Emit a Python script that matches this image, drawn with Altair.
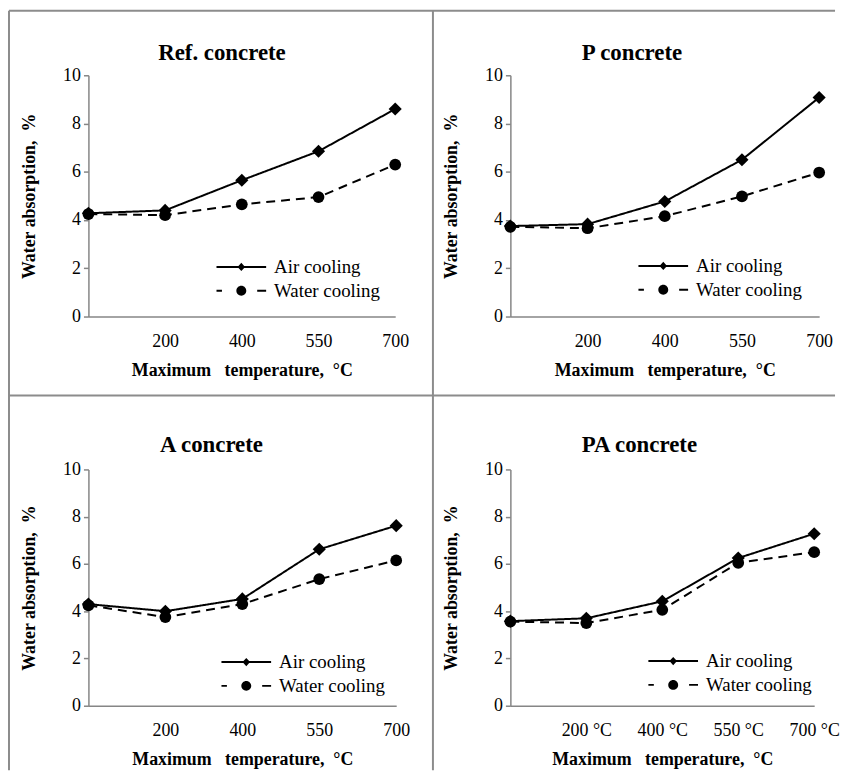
import altair as alt
import pandas as pd

# ---- data ----
temps = ["20", "200", "400", "550", "700"]
labels_plain = ["", "200", "400", "550", "700"]
labels_pa = ["", "200 °C", "400 °C", "550 °C", "700 °C"]
series = ["Air cooling", "Water cooling"]

titles = ["Ref. concrete", "P concrete", "A concrete", "PA concrete"]

ref_air = [4.28, 4.40, 5.65, 6.85, 8.60]
ref_water = [4.25, 4.20, 4.65, 4.95, 6.30]
p_air = [3.75, 3.83, 4.77, 6.50, 9.08]
p_water = [3.72, 3.66, 4.16, 4.98, 5.97]
a_air = [4.30, 4.00, 4.52, 6.62, 7.62]
a_water = [4.25, 3.75, 4.30, 5.36, 6.15]
pa_air = [3.58, 3.70, 4.42, 6.25, 7.28]
pa_water = [3.56, 3.50, 4.06, 6.05, 6.50]

y_ticks = [0, 2, 4, 6, 8, 10]

FONT = "Liberation Serif"
NB = "\u00a0"
Y_TITLE = "Water absorption," + NB * 2 + "%"
X_TITLE = "Maximum" + NB * 3 + "temperature," + NB * 2 + "°C"

# legend glyphs (line + marker) drawn as filled shapes, unit = 10 px
AIR_PATH = "M-1,-0.1L4,-0.1L4,0.1L-1,0.1Z M1.5,-0.42L1.88,0L1.5,0.42L1.12,0Z"
WATER_PATH = (
    "M-1,-0.1L-0.45,-0.1L-0.45,0.1L-1,0.1Z "
    "M3.1,-0.1L4,-0.1L4,0.1L3.1,0.1Z "
    "M2,0A0.5,0.5 0 1,1 1,0A0.5,0.5 0 1,1 2,0Z"
)


def make_df(air, water):
    rows = []
    for s, vals in zip(series, [air, water]):
        for t, v in zip(temps, vals):
            rows.append({"temp": t, "series": s, "value": v})
    return pd.DataFrame(rows)


def label_expr(labels):
    arr_l = "[" + ",".join("'" + l + "'" for l in labels) + "]"
    arr_t = "[" + ",".join("'" + t + "'" for t in temps) + "]"
    return arr_l + "[indexof(" + arr_t + ", datum.value)]"


def panel(title, air, water, labels, w, h, t_off, t_dx, lx, ly, borders=False):
    df = make_df(air, water)
    base = alt.Chart(df)
    x = alt.X(
        "temp:O",
        sort=temps,
        scale=alt.Scale(type="point", padding=0),
        axis=alt.Axis(
            labelExpr=label_expr(labels),
            labelAngle=0,
            ticks=False,
            labelPadding=16,
            title=X_TITLE,
            titlePadding=11,
        ),
    )
    y = alt.Y(
        "value:Q",
        scale=alt.Scale(domain=[0, 10], nice=False),
        axis=alt.Axis(
            values=y_ticks,
            tickSize=5,
            labelPadding=3,
            title=Y_TITLE,
            titlePadding=24,
        ),
    )
    lines = base.mark_line(color="black", strokeWidth=2).encode(
        x=x,
        y=y,
        strokeDash=alt.StrokeDash(
            "series:N",
            scale=alt.Scale(domain=series, range=[[1, 0], [9, 6]]),
            legend=None,
        ),
    )
    pts = base.mark_point(filled=True, color="black", opacity=1).encode(
        x=x,
        y=y,
        shape=alt.Shape(
            "series:N",
            scale=alt.Scale(domain=series, range=["diamond", "circle"]),
            legend=None,
        ),
        size=alt.Size(
            "series:N",
            scale=alt.Scale(domain=series, range=[175, 140]),
            legend=None,
        ),
    )
    leg = (
        base.mark_point(filled=True, color="black", opacity=1)
        .encode(
            x=x,
            y=y,
            shape=alt.Shape(
                "series:N",
                scale=alt.Scale(domain=series, range=[AIR_PATH, WATER_PATH]),
                legend=alt.Legend(
                    title=None,
                    orient="none",
                    legendX=lx,
                    legendY=ly,
                    symbolSize=400,
                    symbolStrokeWidth=0,
                    symbolFillColor="black",
                    symbolOpacity=1,
                    labelFont=FONT,
                    labelFontSize=19,
                    labelColor="black",
                    labelOffset=38,
                    rowPadding=4,
                    padding=0,
                ),
            ),
        )
        .transform_filter("false")
    )
    layers = [lines, pts, leg]
    if borders:
        one = alt.InlineData(values=[{"k": 1}])
        col = "#8c8c8c"
        r = lambda **kw: alt.Chart(one).mark_rule(color=col, strokeWidth=2).encode(**kw)
        layers += [
            r(x=alt.value(-80), x2=alt.value(752), y=alt.value(-65)),
            r(x=alt.value(-80), x2=alt.value(752), y=alt.value(322.5)),
            r(x=alt.value(-80), y=alt.value(-65), y2=alt.value(700)),
            r(x=alt.value(347), y=alt.value(-65), y2=alt.value(700)),
        ]
    return (
        alt.layer(*layers)
        .resolve_scale(shape="independent")
        .properties(
            width=w,
            height=h,
            title=alt.TitleParams(title, offset=t_off, dx=t_dx, baseline="alphabetic"),
        )
    )


tl = panel(titles[0], ref_air, ref_water, labels_plain, 309, 243, -74, -20, 129, 183, borders=True)
tr = panel(titles[1], p_air, p_water, labels_plain, 311, 243, -17, -33, 129, 182)
bl = panel(titles[2], a_air, a_water, labels_plain, 310, 238, -14, -31, 134, 184)
br = panel(titles[3], pa_air, pa_water, labels_pa, 306, 238, -14, -23, 139, 183)

chart = (
    alt.concat(tl, tr, bl, br, columns=2, spacing={"row": 154, "column": 115}, bounds="flush")
    .properties(padding={"left": 0, "top": -1, "right": 0, "bottom": 0})
    .configure_view(stroke=None)
    .configure_axis(
        labelFont=FONT,
        labelFontSize=18,
        labelColor="black",
        titleFont=FONT,
        titleFontSize=18,
        titleFontWeight="bold",
        titleColor="black",
        domainColor="#868686",
        domainWidth=1.5,
        tickColor="#868686",
        tickWidth=1.5,
        grid=False,
    )
    .configure_title(font=FONT, fontSize=23, fontWeight="bold", color="black", anchor="middle")
)

chart.save("out.html", embed_options={"renderer": "svg", "actions": False})
